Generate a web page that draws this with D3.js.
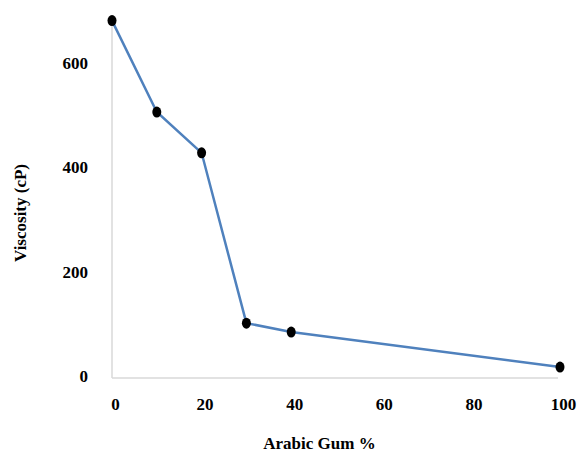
<!DOCTYPE html>
<html><head><meta charset="utf-8">
<script src="https://cdn.jsdelivr.net/npm/d3@7"></script>
<style>body{margin:0;background:#fff}svg{display:block}
svg text{font-family:"Liberation Serif","DejaVu Serif",serif;font-weight:bold;}</style>
</head><body>
<script>
const gumPct = [0, 10, 20, 30, 40, 100];
const viscosity = [684, 509, 431, 105, 88, 21];
const xTicks = [0, 20, 40, 60, 80, 100];
const yTicks = [0, 200, 400, 600];
const xTitle = "Arabic Gum %";
const yTitle = "Viscosity (cP)";

const W = 578, H = 452;
const svg = d3.select("body").append("svg").attr("width", W).attr("height", H);
const x = d3.scaleLinear().domain([0, 100]).range([112, 560]);
const y = d3.scaleLinear().domain([0, 600]).range([378, 64.5]);

svg.append("line").attr("x1", x(0)).attr("x2", 558).attr("y1", y(0)).attr("y2", y(0))
  .attr("stroke", "#d9d9d9").attr("stroke-width", 1.5);
svg.append("line").attr("x1", x(0)).attr("x2", x(0)).attr("y1", y(0)).attr("y2", 18)
  .attr("stroke", "#d9d9d9").attr("stroke-width", 1.5);

const xAxis = d3.axisBottom(x).tickValues(xTicks).tickSize(0).tickPadding(0);
const gx = svg.append("g").attr("transform", `translate(3,410)`).call(xAxis);
gx.select(".domain").remove();
gx.attr("font-family", null);
gx.selectAll("text").attr("font-size", 17).attr("fill", "#000").attr("dy", 0).attr("y", 0);

const yAxis = d3.axisLeft(y).tickValues(yTicks).tickSize(0).tickPadding(0);
const gy = svg.append("g").attr("transform", `translate(88,-2)`).call(yAxis);
gy.select(".domain").remove();
gy.attr("font-family", null);
gy.selectAll("text").attr("font-size", 17).attr("fill", "#000").attr("dy", "0.35em");

svg.append("text").attr("x", 319.5).attr("y", 449).attr("text-anchor", "middle")
  .attr("font-size", 17).text(xTitle);
svg.append("text").attr("transform", "translate(26,213) rotate(-90)").attr("text-anchor", "middle")
  .attr("font-size", 17).text(yTitle);

const data = gumPct.map((g, i) => ({g, v: viscosity[i]}));
svg.append("path").datum(data)
  .attr("d", d3.line().x(d => x(d.g)).y(d => y(d.v)))
  .attr("fill", "none").attr("stroke", "#4f81bd").attr("stroke-width", 2.5);
svg.selectAll("ellipse.pt").data(data).join("ellipse").attr("class", "pt")
  .attr("cx", d => x(d.g)).attr("cy", d => y(d.v)).attr("rx", 4.5).attr("ry", 5.5).attr("fill", "#000");
</script>
</body></html>
